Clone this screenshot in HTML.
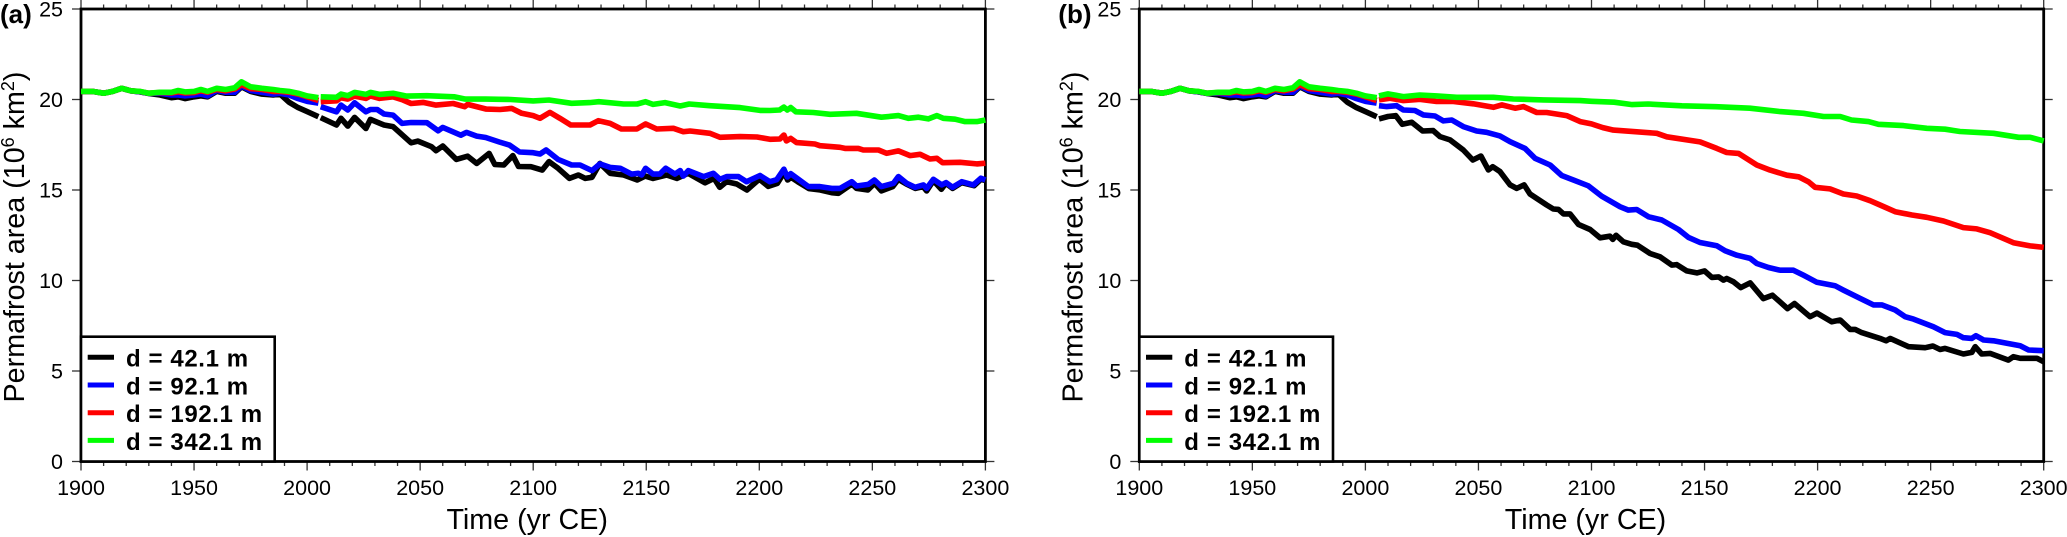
<!DOCTYPE html>
<html lang="en">
<head>
<meta charset="utf-8">
<title>Permafrost area</title>
<style>
html,body{margin:0;padding:0;background:#fff;}
svg{display:block;font-family:"Liberation Sans",Arial,sans-serif;}
</style>
</head>
<body>
<svg id="figure" xmlns="http://www.w3.org/2000/svg" width="2067" height="537" viewBox="0 0 2067 537"></svg>
<script>
// ---- shared historical run (both panels) ----
const histYears = [1900,1905,1910,1914,1918,1922,1926,1930,1935,1940,1943,1946,1950,1953,1956,1960,1964,1968,1971,1975,1980,1985,1988,1992,1996,2000,2005];
const histBlack = [20.45,20.45,20.35,20.45,20.62,20.48,20.42,20.33,20.25,20.1,20.15,20.05,20.15,20.2,20.15,20.45,20.35,20.35,20.7,20.45,20.3,20.25,20.3,19.85,19.55,19.33,19.05];
const histBlue  = [20.45,20.45,20.35,20.45,20.62,20.48,20.42,20.34,20.35,20.25,20.25,20.2,20.25,20.3,20.2,20.5,20.4,20.4,20.75,20.5,20.4,20.3,20.35,20.25,20.05,19.9,19.8];
const histRed   = [20.45,20.45,20.35,20.45,20.62,20.48,20.44,20.35,20.38,20.36,20.42,20.36,20.38,20.48,20.4,20.55,20.48,20.58,20.82,20.6,20.55,20.45,20.45,20.4,20.3,20.15,19.95];
const histGreen = [20.45,20.45,20.35,20.45,20.62,20.48,20.45,20.35,20.4,20.4,20.5,20.42,20.45,20.55,20.45,20.62,20.55,20.65,20.98,20.7,20.62,20.55,20.5,20.45,20.35,20.2,20.1];

// ---- panel (a) future ----
const aBlackYears = [2006,2013,2015,2018,2021,2026,2028,2034,2038,2046,2049,2055,2057,2060,2066,2071,2075,2080.5,2083,2087,2091,2093.5,2099,2104,2107,2111,2116,2120,2123,2126,2129.5,2134,2140,2146,2149.5,2153,2159,2163.5,2168.5,2176,2180,2182.5,2185.5,2190,2194.5,2200,2204,2208,2211,2212.5,2214,2217,2222,2227,2232,2235,2241,2243,2248,2251,2254,2259,2261.5,2265,2269,2272.5,2274,2277,2280.5,2282.5,2285.5,2289.5,2295,2298,2300];
const aBlackValues = [19.0,18.59,18.96,18.53,19.01,18.4,18.9,18.59,18.5,17.61,17.7,17.39,17.17,17.43,16.69,16.87,16.47,17.02,16.41,16.38,16.9,16.3,16.29,16.1,16.57,16.2,15.64,15.83,15.64,15.7,16.47,15.92,15.83,15.55,15.77,15.64,15.83,15.64,15.92,15.4,15.64,15.15,15.46,15.33,15,15.6,15.2,15.37,15.98,15.55,15.7,15.46,15.08,15,14.85,14.82,15.33,15.09,15,15.37,14.95,15.19,15.59,15.33,15.09,15.19,14.95,15.52,15.04,15.37,15.09,15.41,15.24,15.59,15.52];
const aBlueYears = [2006,2013,2015,2018,2021,2026,2028,2031,2034,2038,2042,2046,2053,2058,2060,2068,2070.5,2075,2079,2085,2089.5,2094,2100,2103,2105.7,2111,2117,2120.7,2126,2129.5,2134,2138.5,2143.5,2146.5,2148,2149.7,2153,2156,2158.6,2162.7,2165,2166.4,2168.6,2175.3,2179.7,2182.6,2185.6,2190.8,2194.4,2200.3,2204.7,2207.7,2210.9,2212.4,2213.9,2217.3,2221.7,2226.8,2232,2235.7,2240.9,2243,2248.2,2250.9,2254,2259.3,2261.5,2265.2,2268.9,2272.6,2274,2277,2280.7,2282.6,2285.5,2289.5,2294.7,2298,2300];
const aBlueValues = [19.6,19.32,19.69,19.42,19.82,19.32,19.45,19.45,19.2,19.14,18.68,18.73,18.72,18.27,18.46,18.03,18.18,17.98,17.9,17.65,17.48,17.1,17.06,16.99,17.21,16.69,16.38,16.38,16.07,16.44,16.25,16.2,15.88,15.92,15.83,16.2,15.88,15.88,16.2,15.88,16.07,15.77,16.07,15.74,15.92,15.59,15.74,15.74,15.46,15.8,15.46,15.57,16.15,15.72,15.9,15.59,15.19,15.19,15.09,15.09,15.46,15.22,15.31,15.55,15.19,15.37,15.74,15.37,15.15,15.28,15.09,15.59,15.28,15.41,15.15,15.46,15.28,15.65,15.55];
const aRedYears = [2006,2013,2015,2018,2021,2026,2028,2032,2038,2042.4,2046,2051.3,2057,2064.6,2069.7,2071,2079.3,2085.3,2090.5,2094.9,2100,2103,2107.4,2111.8,2116.6,2125.1,2128.8,2134,2139,2145.8,2149.7,2154.6,2162,2166.4,2169.4,2178.2,2182.6,2191.5,2199,2204.7,2209.1,2210.9,2212,2213.9,2216.5,2224.6,2226.8,2235.7,2237.9,2243.8,2246,2252.7,2256.3,2261.5,2266.7,2271.1,2275.5,2278.5,2281.1,2288.8,2296.2,2300];
const aRedValues = [19.88,19.93,20.1,20.02,20.19,20.06,20.2,20.06,20.15,19.97,19.78,19.84,19.69,19.78,19.6,19.73,19.47,19.45,19.51,19.24,19.11,18.96,19.29,18.96,18.59,18.59,18.83,18.68,18.37,18.37,18.65,18.37,18.41,18.22,18.26,18.13,17.91,17.95,17.93,17.8,17.82,18.04,17.71,17.85,17.62,17.54,17.45,17.36,17.3,17.3,17.21,17.21,17.03,17.16,16.9,16.97,16.71,16.75,16.51,16.53,16.44,16.48];
const aGreenYears = [2006,2013,2015,2018,2021,2026,2028,2032,2038,2044,2053,2065,2070,2079,2085,2090,2100,2107,2117,2125,2129,2140,2146,2149.7,2153,2158.3,2165,2169,2178,2191.5,2200.3,2204.7,2209,2210.9,2212.4,2213.9,2216.2,2223.9,2231.3,2243,2254,2261.5,2265.9,2270.4,2274.8,2278.5,2281.4,2286.6,2291,2296.2,2300];
const aGreenValues = [20.15,20.12,20.3,20.21,20.39,20.28,20.39,20.28,20.34,20.19,20.21,20.15,20.02,20.02,20.01,20.0,19.92,19.97,19.79,19.83,19.88,19.75,19.75,19.88,19.73,19.83,19.64,19.75,19.66,19.55,19.4,19.39,19.42,19.58,19.42,19.56,19.32,19.28,19.18,19.24,19.02,19.11,18.96,19.02,18.93,19.11,18.96,18.91,18.78,18.78,18.87];

// ---- panel (b) future ----
const bBlackYears = [2006,2010,2013.4,2016.3,2020.5,2025.3,2030,2033,2037.4,2043.3,2047.5,2051.1,2054.4,2056.3,2059.5,2064,2066.9,2070.2,2072.8,2080.2,2083.1,2085.4,2087.6,2090.5,2094.2,2099.4,2103.8,2108.2,2109.4,2110.9,2114.1,2117.8,2120.3,2125.9,2130.3,2135.5,2137.7,2142.1,2146.6,2150,2153.2,2156.2,2158.4,2159.8,2162.8,2166,2170.2,2176,2180,2186.7,2189.8,2196.7,2199.7,2206.3,2210,2214.4,2216.6,2219.5,2227.6,2230.3,2232.1,2240.2,2247.6,2251,2254.2,2256.4,2264.5,2268.2,2269.7,2272.6,2276.3,2284.4,2286.6,2289.6,2297,2300];
const bBlackValues = [18.93,19.06,19.11,18.63,18.74,18.26,18.28,17.95,17.77,17.21,16.66,16.88,16.11,16.29,16.02,15.28,15.09,15.28,14.78,14.17,13.95,13.93,13.68,13.68,13.1,12.82,12.36,12.45,12.27,12.5,12.14,12.0,11.95,11.49,11.31,10.85,10.88,10.53,10.42,10.53,10.17,10.2,10.02,10.11,9.93,9.61,9.87,9.0,9.19,8.45,8.73,8.0,8.2,7.72,7.82,7.3,7.3,7.12,6.8,6.67,6.8,6.34,6.29,6.38,6.19,6.25,5.94,6.03,6.34,5.94,5.97,5.6,5.79,5.7,5.7,5.51];
const bBlueYears = [2006,2009.4,2013.8,2016.8,2021.9,2025.6,2030.8,2034.5,2038.2,2043.3,2049.2,2053.6,2059.5,2064,2070.6,2075,2081.7,2086.8,2092,2098.6,2104.5,2108.2,2112.7,2116.3,2120,2125.2,2131.1,2138.5,2142.9,2148,2155.4,2159.1,2164.3,2170.2,2173.1,2178.3,2183.4,2189.3,2193.8,2199.7,2207.7,2211.4,2218.8,2224.7,2228.4,2234.3,2238.7,2242.4,2251.2,2256.4,2261.6,2264.5,2268.2,2270,2273.4,2277.8,2283.7,2289.6,2293.3,2300];
const bBlueValues = [19.66,19.61,19.66,19.42,19.39,19.15,19.09,18.82,18.87,18.5,18.26,18.19,17.99,17.67,17.3,16.75,16.38,15.8,15.55,15.23,14.66,14.4,14.07,13.89,13.92,13.52,13.34,12.82,12.38,12.1,11.92,11.64,11.4,11.22,10.94,10.72,10.57,10.57,10.29,9.9,9.71,9.47,9.01,8.65,8.65,8.37,8.0,7.87,7.45,7.12,7.02,6.84,6.8,6.95,6.71,6.67,6.53,6.4,6.16,6.12];
const bRedYears = [2006,2010.9,2016.8,2024.1,2031.5,2038.9,2047.7,2056.6,2060.3,2066.2,2069.9,2075.8,2080.2,2089,2095,2100,2105,2109.7,2128.9,2133.3,2148,2155.4,2159.8,2165,2173.1,2179,2186.4,2191.6,2196,2198.9,2205.5,2211.4,2217.3,2223.2,2227.6,2234.3,2241.7,2248.3,2255.7,2264.5,2270.4,2276.3,2286.6,2294,2300];
const bRedValues = [19.98,20.07,19.94,20.01,19.89,19.89,19.76,19.57,19.7,19.52,19.61,19.28,19.28,19.11,18.78,18.65,18.45,18.31,18.13,17.94,17.66,17.3,17.07,17.02,16.38,16.1,15.82,15.73,15.45,15.15,15.06,14.78,14.67,14.41,14.17,13.8,13.62,13.49,13.29,12.92,12.85,12.64,12.09,11.91,11.83];
const bGreenYears = [2006,2010,2016.8,2024,2031.5,2040.4,2056.6,2065.4,2078.7,2095,2100,2110,2118,2125,2140,2155,2170,2183.4,2193.7,2202.6,2210,2215,2222.5,2226.9,2238,2248.3,2256.4,2263,2277.8,2288.9,2294,2300];
const bGreenValues = [20.2,20.31,20.16,20.25,20.2,20.12,20.12,20.03,19.98,19.94,19.9,19.85,19.72,19.75,19.65,19.6,19.52,19.33,19.24,19.06,19.06,18.87,18.78,18.63,18.56,18.41,18.36,18.23,18.13,17.91,17.91,17.71];

// ---- axis labels / legend text ----
const xTickLabels = [1900,1950,2000,2050,2100,2150,2200,2250,2300];
const xMinorTicks = [1910,1920,1930,1940,1960,1970,1980,1990,2010,2020,2030,2040,2060,2070,2080,2090,2110,2120,2130,2140,2160,2170,2180,2190,2210,2220,2230,2240,2260,2270,2280,2290];
const yTickLabels = [0,5,10,15,20,25];
const legendLabels = ['d = 42.1 m','d = 92.1 m','d = 192.1 m','d = 342.1 m'];
const seriesKeys = ['d-42-1','d-92-1','d-192-1','d-342-1'];
const seriesColors = ['#000000','#0000ff','#ff0000','#00ff00'];

const NS = 'http://www.w3.org/2000/svg';
const svg = document.getElementById('figure');
const TOP = 9, BOTTOM = 461.5, WIDTH = 904.4;

function node(parent, tag, attrs) {
  const el = document.createElementNS(NS, tag);
  for (const k in attrs) el.setAttribute(k, attrs[k]);
  parent.appendChild(el);
  return el;
}

function drawPanel(left, letter, futures) {
  const xScale = yr => left + (yr - 1900) / 400 * WIDTH;
  const yScale = v => BOTTOM - v / 25 * (BOTTOM - TOP);
  const right = left + WIDTH;

  const g = node(svg, 'g', {});
  
  

  // ticks
  xTickLabels.forEach(t => {
    const x = xScale(t);
    const bottomTick = node(g, 'line', {x1:x, x2:x, y1:BOTTOM, y2:BOTTOM + 9, stroke:'#333', 'stroke-width':1.3});
    
    
    const topTick = node(g, 'line', {x1:x, x2:x, y1:TOP, y2:TOP - 9, stroke:'#333', 'stroke-width':1.3});
    
    
    const label = node(g, 'text', {x:x, y:495, 'text-anchor':'middle', 'font-size':21.5, fill:'#000'});
    
    
    label.textContent = t;
  });
  xMinorTicks.forEach(t => {
    const x = xScale(t);
    const bottomMinor = node(g, 'line', {x1:x, x2:x, y1:BOTTOM, y2:BOTTOM + 4.5, stroke:'#333', 'stroke-width':1.3});
    
    
    const topMinor = node(g, 'line', {x1:x, x2:x, y1:TOP, y2:TOP - 4.5, stroke:'#333', 'stroke-width':1.3});
    
    
  });
  yTickLabels.forEach(t => {
    const y = yScale(t);
    const leftTick = node(g, 'line', {x1:left, x2:left - 9, y1:y, y2:y, stroke:'#333', 'stroke-width':1.3});
    
    
    const rightTick = node(g, 'line', {x1:right, x2:right + 9, y1:y, y2:y, stroke:'#333', 'stroke-width':1.3});
    
    
    const label = node(g, 'text', {x:left - 18, y:y + 7.5, 'text-anchor':'end', 'font-size':21.5, fill:'#000'});
    
    
    label.textContent = t;
  });

  // frame
  const frame = node(g, 'rect', {x:left, y:TOP, width:WIDTH, height:BOTTOM - TOP, fill:'none', stroke:'#000', 'stroke-width':2.8});
  
  

  // series
  const hist = [histBlack, histBlue, histRed, histGreen];
  futures.forEach((f, i) => {
    const histPts = histYears.map((yr, k) => xScale(yr).toFixed(1) + ',' + yScale(hist[i][k]).toFixed(1)).join(' ');
    const h = node(g, 'polyline', {points:histPts, fill:'none', stroke:seriesColors[i], 'stroke-width':5.6, 'stroke-linejoin':'round'});
    
    
    const futPts = f.years.map((yr, k) => xScale(yr).toFixed(1) + ',' + yScale(f.values[k]).toFixed(1)).join(' ');
    const p = node(g, 'polyline', {points:futPts, fill:'none', stroke:seriesColors[i], 'stroke-width':5.6, 'stroke-linejoin':'round'});
    
    
  });

  // legend
  const legend = node(g, 'g', {});
  
  
  const box = node(legend, 'rect', {x:left, y:336.7, width:193.7, height:BOTTOM - 336.7, fill:'#fff', stroke:'#000', 'stroke-width':2.6});
  
  
  legendLabels.forEach((txt, i) => {
    const swatch = node(legend, 'line', {x1:left + 6.7, x2:left + 33, y1:357.3 + i * 27.7, y2:357.3 + i * 27.7, stroke:seriesColors[i], 'stroke-width':5});
    
    
    const t = node(legend, 'text', {x:left + 45, y:366.7 + i * 27.7, 'font-size':24, 'font-weight':'bold', 'letter-spacing':'0.6', fill:'#000'});
    
    
    t.textContent = txt;
  });

  // titles
  const xTitle = node(g, 'text', {x:left + WIDTH / 2 - 6, y:529, 'text-anchor':'middle', 'font-size':28.7, fill:'#000'});
  
  
  xTitle.textContent = 'Time (yr CE)';

  const cx = left - 57, cy = 237;
  const yTitle = node(g, 'text', {x:0, y:0, transform:'translate(' + cx + ',' + cy + ') rotate(-90)', 'text-anchor':'middle', 'font-size':28.7, fill:'#000'});
  
  
  yTitle.appendChild(document.createTextNode('Permafrost area (10'));
  const sup1 = node(yTitle, 'tspan', {dy:-10, 'font-size':18});
  sup1.textContent = '6';
  const mid = node(yTitle, 'tspan', {dy:10});
  mid.textContent = ' km';
  const sup2 = node(yTitle, 'tspan', {dy:-10, 'font-size':18});
  sup2.textContent = '2';
  const end = node(yTitle, 'tspan', {dy:10});
  end.textContent = ')';

  const panelLabel = node(g, 'text', {x:left - 81, y:23, 'font-size':26, 'font-weight':'bold', fill:'#000'});
  
  
  panelLabel.textContent = '(' + letter + ')';
}

drawPanel(81, 'a', [
  {years:aBlackYears, values:aBlackValues},
  {years:aBlueYears, values:aBlueValues},
  {years:aRedYears, values:aRedValues},
  {years:aGreenYears, values:aGreenValues}
]);
drawPanel(1139.3, 'b', [
  {years:bBlackYears, values:bBlackValues},
  {years:bBlueYears, values:bBlueValues},
  {years:bRedYears, values:bRedValues},
  {years:bGreenYears, values:bGreenValues}
]);
</script>
</body>
</html>
